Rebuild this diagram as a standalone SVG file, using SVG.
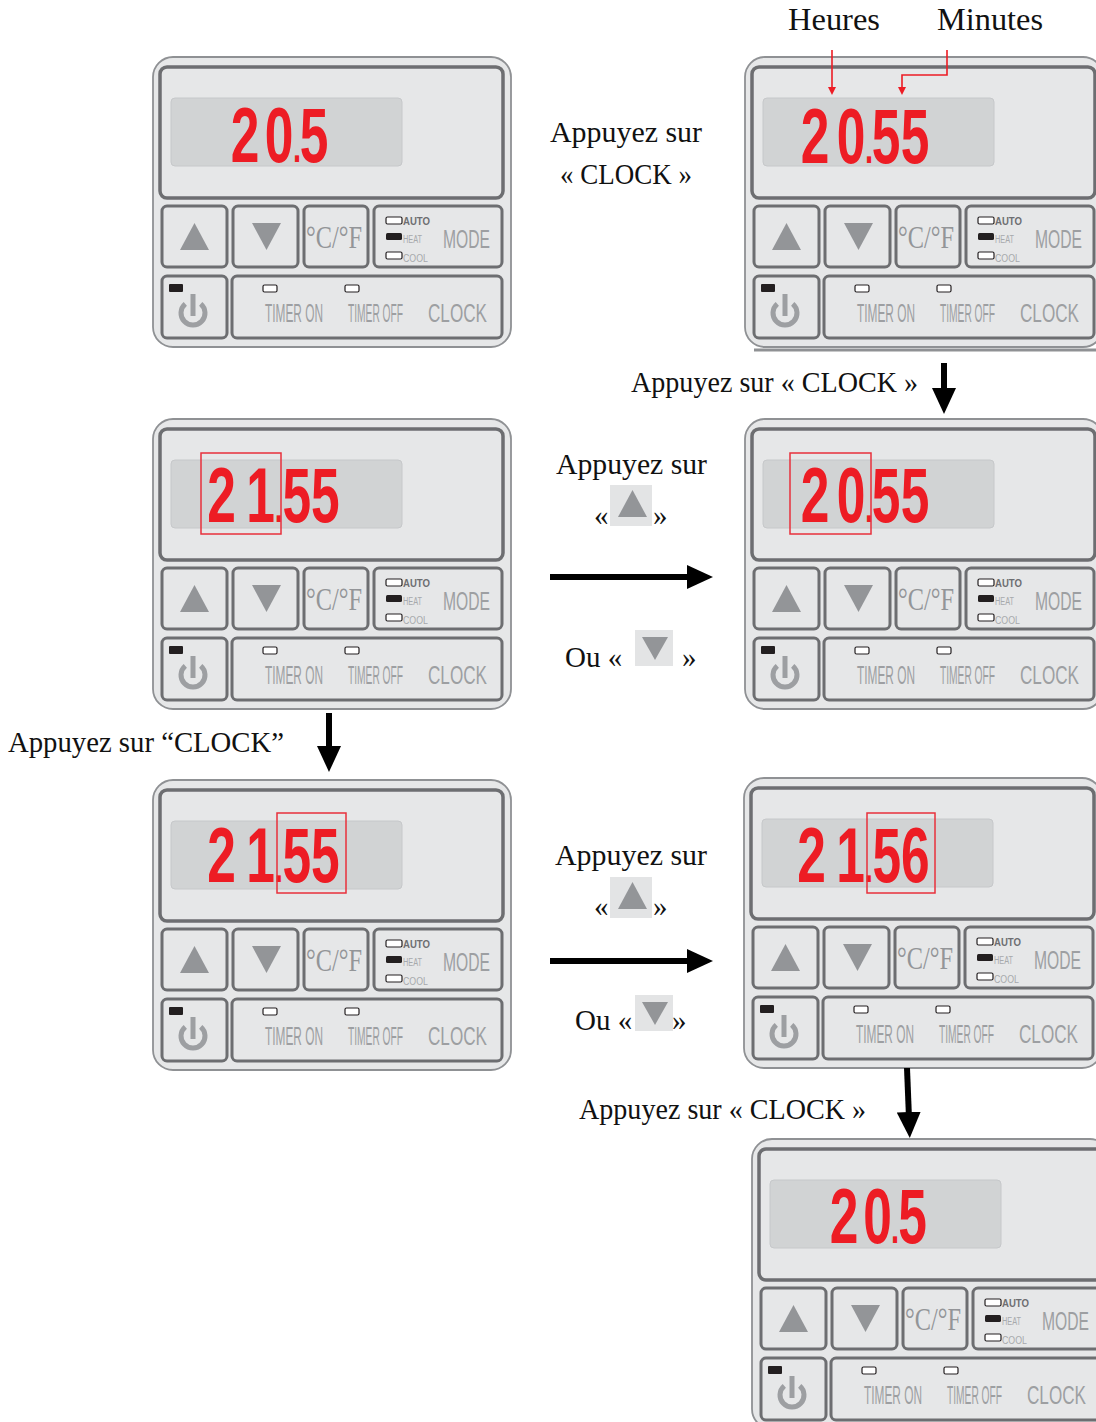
<svg xmlns="http://www.w3.org/2000/svg" xmlns:xlink="http://www.w3.org/1999/xlink" width="1096" height="1422" viewBox="0 0 1096 1422">
  <style>
    .shell { fill: #e6e7e8; stroke: #8f9194; stroke-width: 1.8; }
    .frame { fill: #e6e7e8; stroke: #6d6e71; stroke-width: 3.5; }
    .lcd { fill: #d1d3d4; stroke: #c6c8ca; stroke-width: 1; }
    .key { fill: #e6e7e8; stroke: #6d6e71; stroke-width: 3; }
    .tri { fill: #939598; }
    .led { fill: #ffffff; stroke: #231f20; stroke-width: 1.2; }
    .led-on { fill: #231f20; }
    .unit { font-family: "Liberation Serif", serif; font-size: 31px; fill: #939598; }
    .cap { font-family: "Liberation Sans", sans-serif; font-size: 26px; fill: #9d9fa2; }
    .tiny { font-family: "Liberation Sans", sans-serif; font-size: 10px; fill: #a7a9ac; }
    .tiny-dark { font-family: "Liberation Sans", sans-serif; font-size: 10px; fill: #6d6e71; font-weight: bold; }
    .power { fill: none; stroke: #9d9fa2; stroke-width: 5; stroke-linecap: butt; }
    .seg { font-family: "Liberation Sans", sans-serif; font-weight: bold; font-size: 78px; fill: #ed1c24; }
    .dot { font-size: 44px; }
    .focus { fill: none; stroke: #e8313b; stroke-width: 1.5; }
    .lbl { font-family: "Liberation Serif", serif; font-size: 29px; fill: #111111; }
    .head { font-family: "Liberation Serif", serif; font-size: 31px; fill: #111111; }
    .flow { stroke: #000000; stroke-width: 6; fill: none; }
    .pointer { stroke: #ed1c24; stroke-width: 1.6; fill: none; }
    .chip { fill: #e3e4e5; }
  </style>
  <defs>
    <marker id="arrow" markerUnits="userSpaceOnUse" markerWidth="26" markerHeight="24" viewBox="0 0 26 24" refX="1" refY="12" orient="auto">
      <path d="M0,0 L26,12 L0,24 Z" fill="#000000"/>
    </marker>
    <marker id="red-arrow" markerUnits="userSpaceOnUse" markerWidth="8" markerHeight="8" viewBox="0 0 8 8" refX="1" refY="4" orient="auto">
      <path d="M0,0 L8,4 L0,8 Z" fill="#ed1c24"/>
    </marker>

    <!-- control panel: shell, display window, keys and key legends -->
    <g id="panel-base">
      <rect class="shell" x="0" y="0" width="358" height="290" rx="20"/>
      <rect class="frame" x="7" y="10" width="343" height="131" rx="7"/>
      <rect class="lcd" x="18" y="41" width="231" height="68" rx="4"/>
      <rect class="key" x="9" y="149" width="65" height="61" rx="5"/>
      <rect class="key" x="80" y="149" width="65" height="61" rx="5"/>
      <rect class="key" x="151" y="149" width="64" height="61" rx="5"/>
      <rect class="key" x="221" y="149" width="128" height="61" rx="5"/>
      <rect class="key" x="9" y="219" width="65" height="62" rx="5"/>
      <rect class="key" x="79" y="219" width="270" height="62" rx="5"/>
      <polygon class="tri" points="27,193 56,193 41.5,166"/>
      <polygon class="tri" points="99,166 128,166 113.5,193"/>
      <text class="unit" x="181" y="191" text-anchor="middle" textLength="56" lengthAdjust="spacingAndGlyphs">°C/°F</text>
      <rect class="led" x="233" y="160" width="16" height="7" rx="1.5"/>
      <rect class="led-on" x="233" y="176" width="16" height="7" rx="1.5"/>
      <rect class="led" x="233" y="195" width="16" height="7" rx="1.5"/>
      <text class="tiny-dark" x="250" y="168" textLength="27" lengthAdjust="spacingAndGlyphs">AUTO</text>
      <text class="tiny" x="250" y="186" textLength="19" lengthAdjust="spacingAndGlyphs">HEAT</text>
      <text class="tiny" x="250" y="205" textLength="25" lengthAdjust="spacingAndGlyphs">COOL</text>
      <text class="cap" x="290" y="191" textLength="47" lengthAdjust="spacingAndGlyphs">MODE</text>
      <rect class="led-on" x="16" y="227" width="14" height="8" rx="1"/>
      <path class="power" d="M32.3,246.8 A12,12 0 1,0 47.7,246.8"/>
      <line class="power" x1="40" y1="237" x2="40" y2="259"/>
      <rect class="led" x="110" y="228" width="14" height="7" rx="1.5"/>
      <rect class="led" x="192" y="228" width="14" height="7" rx="1.5"/>
      <text class="cap" x="112" y="265" textLength="58" lengthAdjust="spacingAndGlyphs">TIMER ON</text>
      <text class="cap" x="195" y="265" textLength="55" lengthAdjust="spacingAndGlyphs">TIMER OFF</text>
      <text class="cap" x="275" y="265" textLength="59" lengthAdjust="spacingAndGlyphs">CLOCK</text>
    </g>

    <!-- small key chips quoted in the instructions -->
    <g id="chip-up">
      <rect class="chip" x="0" y="0" width="42" height="41"/>
      <polygon class="tri" points="8,32 37,32 22.5,5"/>
    </g>
    <g id="chip-down">
      <rect class="chip" x="0" y="0" width="38" height="36"/>
      <polygon class="tri" points="7,7 33,7 20,30"/>
    </g>
  </defs>

  <rect x="0" y="0" width="1096" height="1422" fill="#ffffff"/>

  <!-- step 1: temperature shown -->
  <g id="panel-1" transform="translate(153,57)">
    <use xlink:href="#panel-base"/>
    <text class="seg" transform="translate(0,105) scale(0.66,1)" text-anchor="middle"><tspan x="139.4">2</tspan><tspan x="190.9">0</tspan><tspan class="dot" x="218.2">.</tspan><tspan x="243.9">5</tspan></text>
  </g>

  <!-- step 2: clock shown, hours and minutes called out -->
  <g id="panel-2" transform="translate(745,57)">
    <use xlink:href="#panel-base"/>
    <line x1="9" y1="293" x2="351" y2="293" stroke="#8f9194" stroke-width="3"/>
    <text class="seg" transform="translate(0,106) scale(0.66,1)" text-anchor="middle"><tspan x="106.1">2</tspan><tspan x="160.6">0</tspan><tspan class="dot" x="187.9">.</tspan><tspan x="213.6">5</tspan><tspan x="257.6">5</tspan></text>
  </g>

  <!-- step 3b: hours adjusted -->
  <g id="panel-3" transform="translate(153,419)">
    <use xlink:href="#panel-base"/>
    <text class="seg" transform="translate(0,103) scale(0.66,1)" text-anchor="middle"><tspan x="103.8">2</tspan><tspan x="162.9">1</tspan><tspan class="dot" x="190.6">.</tspan><tspan x="217.9">5</tspan><tspan x="261.1">5</tspan></text>
    <rect class="focus" x="48" y="34" width="80" height="81"/>
  </g>

  <!-- step 3a: hours selected -->
  <g id="panel-4" transform="translate(745,419)">
    <use xlink:href="#panel-base"/>
    <text class="seg" transform="translate(0,103) scale(0.66,1)" text-anchor="middle"><tspan x="106.1">2</tspan><tspan x="160.6">0</tspan><tspan class="dot" x="187.9">.</tspan><tspan x="213.6">5</tspan><tspan x="257.6">5</tspan></text>
    <rect class="focus" x="45" y="34" width="81" height="81"/>
  </g>

  <!-- step 4a: minutes selected -->
  <g id="panel-5" transform="translate(153,780)">
    <use xlink:href="#panel-base"/>
    <text class="seg" transform="translate(0,102) scale(0.66,1)" text-anchor="middle"><tspan x="103.8">2</tspan><tspan x="162.9">1</tspan><tspan class="dot" x="190.6">.</tspan><tspan x="217.9">5</tspan><tspan x="261.1">5</tspan></text>
    <rect class="focus" x="124" y="33" width="69" height="80"/>
  </g>

  <!-- step 4b: minutes adjusted -->
  <g id="panel-6" transform="translate(744,778)">
    <use xlink:href="#panel-base"/>
    <text class="seg" transform="translate(0,104) scale(0.66,1)" text-anchor="middle"><tspan x="102.3">2</tspan><tspan x="161.4">1</tspan><tspan class="dot" x="189.1">.</tspan><tspan x="216.4">5</tspan><tspan x="259.5">6</tspan></text>
    <rect class="focus" x="123" y="35" width="68" height="80"/>
  </g>

  <!-- step 5: back to temperature -->
  <g id="panel-7" transform="translate(752,1139)">
    <use xlink:href="#panel-base"/>
    <text class="seg" transform="translate(0,104) scale(0.66,1)" text-anchor="middle"><tspan x="139.4">2</tspan><tspan x="190.2">0</tspan><tspan class="dot" x="216.7">.</tspan><tspan x="243.2">5</tspan></text>
  </g>

  <!-- instructions -->
  <g id="labels">
    <text class="head" x="788" y="30" textLength="92" lengthAdjust="spacingAndGlyphs">Heures</text>
    <text class="head" x="937" y="30" textLength="106" lengthAdjust="spacingAndGlyphs">Minutes</text>
    <text class="lbl" x="550" y="142" textLength="152" lengthAdjust="spacingAndGlyphs">Appuyez sur</text>
    <text class="lbl" x="560" y="184" textLength="132" lengthAdjust="spacingAndGlyphs">« CLOCK »</text>
    <text class="lbl" x="631" y="392" textLength="287" lengthAdjust="spacingAndGlyphs">Appuyez sur « CLOCK »</text>

    <text class="lbl" x="556" y="474" textLength="151" lengthAdjust="spacingAndGlyphs">Appuyez sur</text>
    <text class="lbl" x="594" y="525">«</text>
    <use xlink:href="#chip-up" x="610" y="485"/>
    <text class="lbl" x="653" y="525">»</text>
    <text class="lbl" x="565" y="667">Ou «</text>
    <use xlink:href="#chip-down" x="635" y="630"/>
    <text class="lbl" x="682" y="667">»</text>

    <text class="lbl" x="8" y="752" textLength="276" lengthAdjust="spacingAndGlyphs">Appuyez sur “CLOCK”</text>

    <text class="lbl" x="555" y="865" textLength="152" lengthAdjust="spacingAndGlyphs">Appuyez sur</text>
    <text class="lbl" x="594" y="916">«</text>
    <use xlink:href="#chip-up" x="610" y="877"/>
    <text class="lbl" x="653" y="916">»</text>
    <text class="lbl" x="575" y="1030">Ou «</text>
    <use xlink:href="#chip-down" x="635" y="995"/>
    <text class="lbl" x="672" y="1030">»</text>

    <text class="lbl" x="579" y="1119" textLength="287" lengthAdjust="spacingAndGlyphs">Appuyez sur « CLOCK »</text>
  </g>

  <!-- connectors -->
  <g id="connectors">
    <polyline class="pointer" points="832,50 832,88" marker-end="url(#red-arrow)"/>
    <polyline class="pointer" points="947,50 947,75 902,75 902,88" marker-end="url(#red-arrow)"/>
    <line class="flow" x1="944" y1="363" x2="944" y2="389" marker-end="url(#arrow)"/>
    <line class="flow" x1="550" y1="577" x2="688" y2="577" marker-end="url(#arrow)"/>
    <line class="flow" x1="329" y1="713" x2="329" y2="747" marker-end="url(#arrow)"/>
    <line class="flow" x1="550" y1="961" x2="688" y2="961" marker-end="url(#arrow)"/>
    <line class="flow" x1="907" y1="1068" x2="908.8" y2="1113" marker-end="url(#arrow)"/>
  </g>
</svg>
